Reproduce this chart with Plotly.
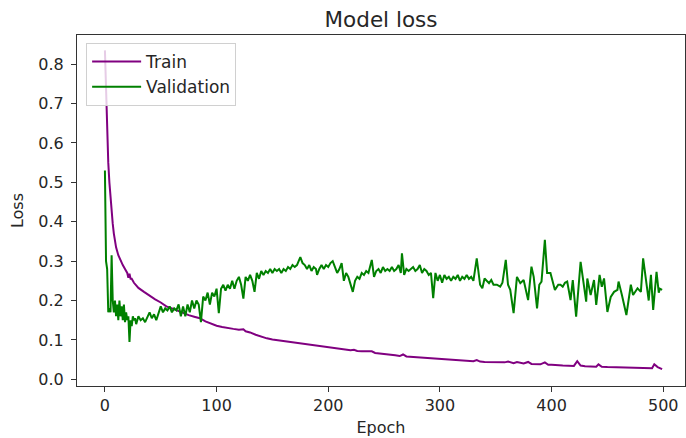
import plotly.graph_objects as go

train_epochs = [0,1,2,3,4,5,6,7,8,9,10,12,14,16,18,20,21,22,23,24,26,28,30,35,40,45,50,55,60,65,70,75,80,85,90,95,
                100,105,110,115,120,124,126,130,135,140,145,150,160,170,175,180,190,200,210,214,220,223,226,230,239,242,
                250,260,264,267,270,280,290,300,310,320,330,333,336,340,350,358,361,366,369,375,379,382,390,394,397,
                400,410,420,423,426,430,440,442,445,450,460,470,480,486,490,492,495,499]
train_loss = [0.835,0.72,0.62,0.55,0.50,0.46,0.42,0.395,0.37,0.35,0.335,0.315,0.30,0.29,0.28,0.27,0.258,0.268,0.255,0.255,
              0.245,0.238,0.232,0.222,0.212,0.203,0.195,0.185,0.18,0.174,0.168,0.163,0.159,0.155,0.147,0.141,
              0.136,0.133,0.13,0.128,0.126,0.127,0.122,0.119,0.113,0.108,0.104,0.101,0.097,0.093,0.091,0.089,0.085,
              0.081,0.077,0.077,0.074,0.075,0.072,0.071,0.071,0.067,0.065,0.061,0.059,0.063,0.058,0.056,0.054,
              0.052,0.050,0.048,0.046,0.049,0.045,0.044,0.043,0.043,0.045,0.041,0.044,0.040,0.044,0.039,0.038,
              0.043,0.037,0.037,0.035,0.034,0.046,0.035,0.033,0.032,0.038,0.032,0.031,0.030,0.030,0.029,0.029,
              0.028,0.038,0.031,0.026]

val_epochs = [0,1,2,3,4,5,6,7,8,9,10,11,12,13,14,15,16,17,18,19,20,21,22,23,24,25,26,27,28,30,32,34,36,38,40,42,44,46,48,
              50,52,54,56,58,60,62,64,66,68,70,72,74,76,78,80,82,84,86,88,90,92,94,96,98,100,102,104,106,108,110,
              112,114,116,118,120,122,124,126,128,130,132,134,136,138,140,142,144,146,148,150,152,154,156,158,160,
              162,164,166,168,170,172,175,177,179,181,183,185,187,189,190,192,194,196,198,200,202,204,206,208,210,
              212,214,216,218,220,222,224,226,228,230,232,234,236,239,241,243,245,247,249,251,253,255,257,259,261,
              263,265,266,268,270,272,274,276,278,280,282,284,286,288,290,292,294,296,298,300,302,304,306,308,310,
              312,314,316,318,320,322,324,326,328,330,333,336,338,340,342,344,346,348,351,354,356,359,361,363,366,
              369,372,375,379,382,384,387,389,391,394,396,399,400,403,406,408,410,412,414,417,419,422,426,429,431,
              432,435,438,440,443,445,447,450,453,456,459,460,463,467,471,473,477,480,482,485,487,489,491,494,496,
              497,499]
val_loss = [0.53,0.30,0.28,0.17,0.18,0.17,0.315,0.20,0.17,0.20,0.16,0.19,0.15,0.20,0.16,0.185,0.15,0.19,0.145,0.17,
            0.15,0.16,0.095,0.15,0.135,0.16,0.15,0.155,0.14,0.16,0.15,0.155,0.145,0.16,0.17,0.155,0.165,0.15,0.17,
            0.185,0.17,0.18,0.175,0.185,0.17,0.18,0.175,0.19,0.16,0.185,0.16,0.19,0.17,0.20,0.18,0.20,0.19,0.145,
            0.21,0.20,0.22,0.19,0.22,0.21,0.23,0.168,0.23,0.24,0.225,0.24,0.23,0.25,0.23,0.25,0.26,0.24,0.205,
            0.26,0.25,0.265,0.25,0.222,0.27,0.255,0.275,0.265,0.275,0.27,0.28,0.27,0.28,0.275,0.28,0.27,0.28,
            0.275,0.285,0.28,0.29,0.285,0.29,0.31,0.295,0.29,0.28,0.29,0.275,0.285,0.28,0.265,0.28,0.29,0.28,
            0.29,0.285,0.295,0.30,0.285,0.27,0.28,0.295,0.25,0.27,0.26,0.24,0.222,0.25,0.26,0.255,0.27,0.265,
            0.275,0.27,0.303,0.26,0.275,0.28,0.27,0.285,0.275,0.28,0.275,0.285,0.275,0.28,0.29,0.27,0.32,0.265,
            0.28,0.275,0.28,0.285,0.275,0.28,0.29,0.27,0.28,0.275,0.265,0.27,0.206,0.27,0.25,0.265,0.245,0.265,
            0.255,0.26,0.25,0.26,0.255,0.265,0.25,0.26,0.255,0.265,0.255,0.26,0.25,0.307,0.24,0.231,0.256,0.25,
            0.244,0.252,0.24,0.24,0.235,0.245,0.303,0.24,0.227,0.168,0.26,0.244,0.252,0.201,0.286,0.26,0.18,0.24,
            0.248,0.354,0.27,0.27,0.26,0.227,0.24,0.24,0.235,0.245,0.248,0.201,0.252,0.159,0.298,0.24,0.197,
            0.256,0.214,0.252,0.189,0.265,0.235,0.256,0.171,0.209,0.222,0.227,0.248,0.214,0.163,0.24,0.214,
            0.231,0.222,0.307,0.24,0.2,0.265,0.176,0.273,0.22,0.23,0.227]

x_ticks = [0, 100, 200, 300, 400, 500]
y_ticks = [0.0, 0.1, 0.2, 0.3, 0.4, 0.5, 0.6, 0.7, 0.8]

FONT = "DejaVu Sans"
TXT = "#262626"

fig = go.Figure()
fig.add_trace(go.Scatter(x=train_epochs, y=train_loss, mode="lines", name="Train",
                         line=dict(color="purple", width=2)))
fig.add_trace(go.Scatter(x=val_epochs, y=val_loss, mode="lines", name="Validation",
                         line=dict(color="green", width=2)))

axis_common = dict(showgrid=False, zeroline=False, showline=True, linecolor="#333333", linewidth=1.2,
                   mirror=True, ticks="outside", ticklen=5, tickwidth=1.2, tickcolor="#333333",
                   tickfont=dict(family=FONT, size=16, color=TXT))

fig.update_layout(
    width=686, height=438,
    margin=dict(l=77, r=1, t=35, b=52),
    paper_bgcolor="white", plot_bgcolor="white",
    title=dict(text="Model loss", x=0.5, xref="paper", xanchor="center", y=1 - 19/438, yanchor="middle",
               font=dict(family=FONT, size=21.5, color=TXT)),
    font=dict(family=FONT, color=TXT),
    showlegend=True,
    legend=dict(x=0.015, y=0.977, xanchor="left", yanchor="top", itemwidth=49,
                bgcolor="rgba(255,255,255,0.8)", bordercolor="#d0d0d0", borderwidth=1,
                font=dict(family=FONT, size=17, color=TXT), tracegroupgap=0),
)
fig.update_xaxes(range=[-25, 519.5], tickvals=x_ticks, ticktext=[str(v) for v in x_ticks],
                 title=dict(text="Epoch", font=dict(family=FONT, size=16, color=TXT), standoff=7),
                 **axis_common)
fig.update_yaxes(range=[-0.017, 0.874], tickvals=y_ticks, ticktext=[f"{v:.1f}" for v in y_ticks],
                 ticklabelstandoff=4,
                 title=dict(text="Loss", font=dict(family=FONT, size=16, color=TXT), standoff=10),
                 **axis_common)

fig.write_html("out.html")
